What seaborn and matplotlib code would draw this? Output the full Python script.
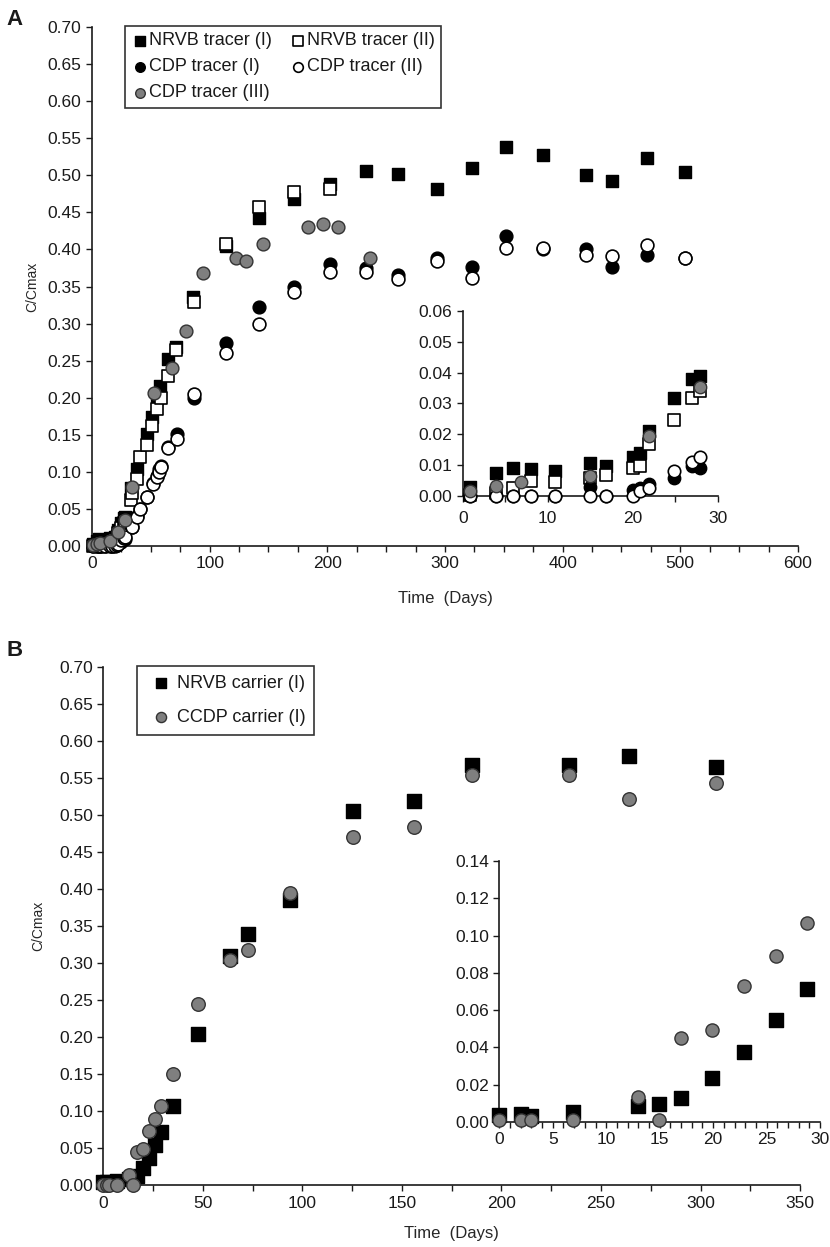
import matplotlib
matplotlib.use("Agg")
import matplotlib.pyplot as plt
import seaborn as sns
from matplotlib.ticker import MultipleLocator, FormatStrFormatter

# ---- panel A : tracer tests ----
A_nrvb1_day = [0.8, 3.9, 5.9, 8, 10.9, 15, 16.9, 20, 20.9, 21.9, 24.9, 27, 27.9,
               33, 38, 47, 51, 55, 58, 65, 71, 86, 114, 142, 172, 202, 233, 260,
               293, 323, 352, 383, 420, 442, 472, 504]
A_nrvb1_c = [0.003, 0.0075, 0.009, 0.0087, 0.008, 0.0106, 0.0098, 0.0125, 0.014,
             0.021, 0.0316, 0.0378, 0.039,
             0.078, 0.104, 0.151, 0.174, 0.20, 0.216, 0.252, 0.268, 0.336, 0.405,
             0.443, 0.468, 0.488, 0.506, 0.502, 0.482, 0.51, 0.538, 0.527, 0.50,
             0.493, 0.523, 0.504]

A_nrvb2_day = [0.8, 3.9, 5.9, 8, 10.9, 15, 16.9, 20, 20.9, 21.9, 24.9, 27, 27.9,
               33, 34, 38, 41, 47, 51, 55, 59, 65, 71, 87, 114, 142, 172, 202]
A_nrvb2_c = [0.0003, 0.001, 0.0025, 0.0048, 0.0046, 0.0057, 0.0068, 0.009, 0.0098,
             0.017, 0.0246, 0.0316, 0.034,
             0.062, 0.072, 0.09, 0.12, 0.136, 0.162, 0.185, 0.20, 0.229, 0.264,
             0.329, 0.407, 0.457, 0.478, 0.481]

A_cdp_day = [0.8, 3.9, 5.9, 8, 10.9, 15, 16.9, 20, 20.9, 21.9, 24.9, 27, 27.9,
             34, 38, 41, 47, 52, 55, 57, 59, 65, 72, 87, 114, 142, 172, 202, 233,
             260, 293, 323, 352, 383, 420, 442, 472, 504]
A_cdp1_c = [0, 0, 0, 0, 0, 0.003, 0, 0.002, 0.0025, 0.0038, 0.0057, 0.0097, 0.0092,
            0.026, 0.04, 0.05, 0.066, 0.085, 0.095, 0.104, 0.108, 0.133, 0.151,
            0.20, 0.274, 0.323, 0.349, 0.381, 0.375, 0.365, 0.388, 0.377, 0.418,
            0.40, 0.40, 0.376, 0.392, 0.388]
A_cdp2_c = [0, 0, 0, 0, 0, 0, 0, 0, 0.0017, 0.0025, 0.0082, 0.011, 0.0125,
            0.026, 0.039, 0.05, 0.066, 0.084, 0.093, 0.10, 0.107, 0.132, 0.145,
            0.205, 0.26, 0.30, 0.343, 0.37, 0.37, 0.36, 0.385, 0.361, 0.402,
            0.402, 0.392, 0.391, 0.406, 0.388]

A_cdp3_day = [0.8, 3.9, 6.8, 15, 21.9, 27.9, 34, 53, 68, 80, 94, 122, 131, 145,
              184, 196, 209, 236]
A_cdp3_c = [0.0017, 0.0033, 0.0044, 0.0065, 0.0195, 0.0354, 0.08, 0.206, 0.24,
            0.29, 0.368, 0.389, 0.385, 0.407, 0.43, 0.435, 0.431, 0.389]

# ---- panel B : carrier tests ----
B_day = [0, 2, 3, 6.9, 13, 14.9, 17, 19.9, 22.9, 25.9, 28.8, 35.2, 47.8, 63.8,
         72.5, 94, 125.3, 156, 185, 234, 264, 308]
B_nrvb_c = [0.0038, 0.0043, 0.0034, 0.0052, 0.0088, 0.0095, 0.013, 0.0235, 0.0374,
            0.0548, 0.0714, 0.1076, 0.204, 0.31, 0.34, 0.386, 0.506, 0.519, 0.568,
            0.568, 0.58, 0.565]
B_ccdp_c = [0.001, 0.001, 0.001, 0.001, 0.0133, 0.001, 0.045, 0.0494, 0.073,
            0.0893, 0.107, 0.151, 0.245, 0.304, 0.318, 0.395, 0.47, 0.484, 0.555,
            0.555, 0.522, 0.543]

labels_A = ["NRVB tracer (I)", "NRVB tracer (II)", "CDP tracer (I)",
            "CDP tracer (II)", "CDP tracer (III)"]
labels_B = ["NRVB carrier (I)", "CCDP carrier (I)"]

sns.set_style("ticks")
plt.rcParams["font.family"] = ["Liberation Sans", "DejaVu Sans"]
plt.rcParams["text.color"] = "#1a1a1a"
plt.rcParams["xtick.color"] = "#1a1a1a"
plt.rcParams["ytick.color"] = "#1a1a1a"

GREY = "#7f7f7f"

fig = plt.figure(figsize=(8.3, 12.47), dpi=100)


def style_axis(ax, xmaj, xmin, ymaj, yfmt, fs=12.5):
    ax.xaxis.set_major_locator(MultipleLocator(xmaj))
    ax.xaxis.set_minor_locator(MultipleLocator(xmin))
    ax.yaxis.set_major_locator(MultipleLocator(ymaj))
    ax.yaxis.set_major_formatter(FormatStrFormatter(yfmt))
    for side in ["top", "right"]:
        ax.spines[side].set_visible(False)
    for side in ["left", "bottom"]:
        ax.spines[side].set_linewidth(1.2)
        ax.spines[side].set_color("#1a1a1a")
    ax.tick_params(which="both", direction="out", length=4.5, width=1.0,
                   labelsize=fs, pad=3)
    ax.tick_params(which="minor", length=4.5)


def draw_A(ax, limit, s):
    def sub(xs, ys):
        pts = [(x, y) for x, y in zip(xs, ys) if x <= limit]
        return [p[0] for p in pts], [p[1] for p in pts]

    x, y = sub(A_nrvb1_day, A_nrvb1_c)
    sns.scatterplot(x=x, y=y, ax=ax, marker="s", color="black", edgecolor="black",
                    s=s, linewidth=1.0, clip_on=False, zorder=3, label=labels_A[0])
    x, y = sub(A_nrvb2_day, A_nrvb2_c)
    sns.scatterplot(x=x, y=y, ax=ax, marker="s", color="white", edgecolor="black",
                    s=s, linewidth=1.2, clip_on=False, zorder=4, label=labels_A[1])
    x, y = sub(A_cdp_day, A_cdp1_c)
    sns.scatterplot(x=x, y=y, ax=ax, marker="o", color="black", edgecolor="black",
                    s=s, linewidth=1.0, clip_on=False, zorder=5, label=labels_A[2])
    x, y = sub(A_cdp_day, A_cdp2_c)
    sns.scatterplot(x=x, y=y, ax=ax, marker="o", color="white", edgecolor="black",
                    s=s, linewidth=1.2, clip_on=False, zorder=6, label=labels_A[3])
    x, y = sub(A_cdp3_day, A_cdp3_c)
    sns.scatterplot(x=x, y=y, ax=ax, marker="o", color=GREY, edgecolor="#333333",
                    s=s, linewidth=1.0, clip_on=False, zorder=7, label=labels_A[4])


def draw_B(ax, limit, s):
    pts = [(d, a, b) for d, a, b in zip(B_day, B_nrvb_c, B_ccdp_c) if d <= limit]
    x = [p[0] for p in pts]
    sns.scatterplot(x=x, y=[p[1] for p in pts], ax=ax, marker="s", color="black",
                    edgecolor="black", s=s, linewidth=1.0, clip_on=False, zorder=3,
                    label=labels_B[0])
    sns.scatterplot(x=x, y=[p[2] for p in pts], ax=ax, marker="o", color=GREY,
                    edgecolor="#333333", s=s, linewidth=1.0, clip_on=False, zorder=4,
                    label=labels_B[1])


# ---------- panel A main ----------
axA = fig.add_axes([0.1108, 0.5621, 0.8506, 0.4162])
draw_A(axA, 1000, 85)
axA.set_xlim(0, 600)
axA.set_ylim(0, 0.70)
style_axis(axA, 100, 25, 0.05, "%.2f")
axA.set_xlabel("Time  (Days)", fontsize=12, labelpad=14)
axA.set_ylabel("C/Cmax", fontsize=10, labelpad=6)

h, l = axA.get_legend_handles_labels()
order = [0, 2, 4, 1, 3]
legA = axA.legend([h[i] for i in order], [l[i] for i in order], ncol=2,
                  loc="upper left", bbox_to_anchor=(0.1506, 0.9791),
                  bbox_transform=fig.transFigure, borderaxespad=0,
                  fontsize=13, frameon=True, fancybox=False, edgecolor="black",
                  handletextpad=0.0, handlelength=1.0, columnspacing=0.9,
                  labelspacing=0.5, markerscale=0.75, borderpad=0.35)
legA.get_frame().set_linewidth(1.2)

# ---------- panel A inset ----------
axAi = fig.add_axes([0.5575, 0.6022, 0.3072, 0.1486])
axAi.set_facecolor("none")
draw_A(axAi, 30, 80)
axAi.get_legend().remove()
axAi.set_xlim(0, 30)
axAi.set_ylim(0, 0.06)
style_axis(axAi, 10, 5, 0.01, "%.2f")
axAi.tick_params(axis="x", pad=6)
axAi.set_xlabel("")
axAi.set_ylabel("")

# ---------- panel B main ----------
axB = fig.add_axes([0.1245, 0.0495, 0.8394, 0.4154])
draw_B(axB, 1000, 95)
axB.set_xlim(0, 350)
axB.set_ylim(0, 0.70)
style_axis(axB, 50, 25, 0.05, "%.2f")
axB.set_xlabel("Time  (Days)", fontsize=12, labelpad=11)
axB.set_ylabel("C/Cmax", fontsize=10, labelpad=10)
legB = axB.legend(loc="upper left", bbox_to_anchor=(0.165, 0.4659),
                  bbox_transform=fig.transFigure, borderaxespad=0,
                  fontsize=13, frameon=True, fancybox=False, edgecolor="black",
                  handletextpad=0.0, handlelength=1.7, labelspacing=0.95,
                  markerscale=0.75, borderpad=0.5)
legB.get_frame().set_linewidth(1.2)

# ---------- panel B inset ----------
axBi = fig.add_axes([0.6016, 0.1002, 0.3864, 0.2093])
axBi.set_facecolor("none")
draw_B(axBi, 30, 90)
axBi.get_legend().remove()
axBi.set_xlim(0, 30)
axBi.set_ylim(0, 0.14)
style_axis(axBi, 5, 1, 0.02, "%.2f")
axBi.set_xlabel("")
axBi.set_ylabel("")

fig.text(0.008, 0.993, "A", fontsize=16, fontweight="bold", va="top", ha="left")
fig.text(0.008, 0.487, "B", fontsize=16, fontweight="bold", va="top", ha="left")

fig.savefig("out.png", dpi=100)
